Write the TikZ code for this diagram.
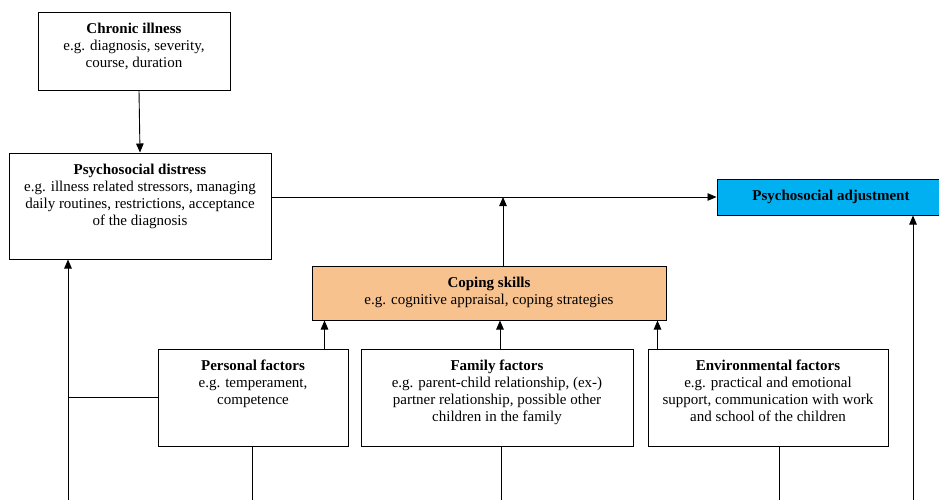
\documentclass[tikz,border=0pt]{standalone}
\usepackage{fontspec}
\setmainfont{Liberation Serif}
\usetikzlibrary{arrows.meta,shadows}

\definecolor{copingfill}{HTML}{F8C28F}
\definecolor{adjustfill}{HTML}{00B0F0}

% text block of a box: bold title on top, examples below
\newcommand{\boxtext}[4]{%
\begin{minipage}[c][#2][t]{#1}\centering
\rule{0pt}{21pt}\textbf{#3}\\#4
\end{minipage}}

\begin{document}
\begin{tikzpicture}[x=1pt, y=-1pt,
	font=\fontsize{15}{17}\selectfont,
	box/.style={draw, line width=1pt, fill=white, inner sep=0pt,
		drop shadow={shadow xshift=0.8pt, shadow yshift=-0.8pt, fill=black!70, opacity=1}},
	arr/.style={line width=0.9pt, -{Triangle[length=9pt, width=7.5pt]}},
	link/.style={line width=0.9pt}]

\clip (0,0) rectangle (939,499);

% Cajas
\node[box] (chronic) at (134,51)
	{\boxtext{192pt}{78pt}{Chronic illness}{e.g. diagnosis, severity,\\course, duration}};
\node[box] (distress) at (140,206)
	{\boxtext{262pt}{106pt}{Psychosocial distress}{e.g. illness related stressors, managing\\daily routines, restrictions, acceptance\\of the diagnosis}};
\node[box, fill=copingfill] (coping) at (489,293)
	{\boxtext{354pt}{54pt}{Coping skills}{e.g. cognitive appraisal, coping strategies}};
\node[box] (personal) at (253,397.5)
	{\boxtext{190pt}{97pt}{Personal factors}{e.g. temperament,\\competence}};
\node[box] (family) at (497,397.5)
	{\boxtext{272pt}{97pt}{Family factors}{e.g. parent-child relationship, (ex-)\\partner relationship, possible other\\children in the family}};
\node[box] (env) at (768,397.5)
	{\boxtext{240pt}{97pt}{Environmental factors}{e.g. practical and emotional\\support, communication with work\\and school of the children}};
\node[box, fill=adjustfill, minimum width=228pt, minimum height=36pt, font=\fontsize{15}{17}\selectfont\bfseries] (adjust) at (831,197)
	{Psychosocial adjustment};

% Flechas principales
\draw[arr] ([xshift=5pt]chronic.south) -- (distress.north);
\draw[arr] (distress.east |- adjust.west) -- (adjust.west);
\draw[arr] ([xshift=14pt]coping.north) -- ([xshift=14pt]coping.north |- adjust.west);

\draw[arr] ([xshift=-24pt]personal.north east) -- ([xshift=-24pt]personal.north east |- coping.south);
\draw[arr] ([xshift=3pt]family.north) -- ([xshift=3pt]family.north |- coping.south);
\draw[arr] ([xshift=10pt]env.north west) -- ([xshift=10pt]env.north west |- coping.south);

% Retroalimentacion
\coordinate (loopL) at (68,510);
\coordinate (loopR) at (913,510);
\draw[arr] (loopL) -- (loopL |- distress.south);
\draw[link] (personal.west) -- (personal.west -| loopL);
\draw[arr] (loopR) -- (loopR |- adjust.south);

	\foreach \n/\dx in {personal/-1, family/4, env/11}
		\draw[link] ([xshift=\dx pt]\n.south) -- ([xshift=\dx pt]\n.south |- loopL);
\end{tikzpicture}
\end{document}
